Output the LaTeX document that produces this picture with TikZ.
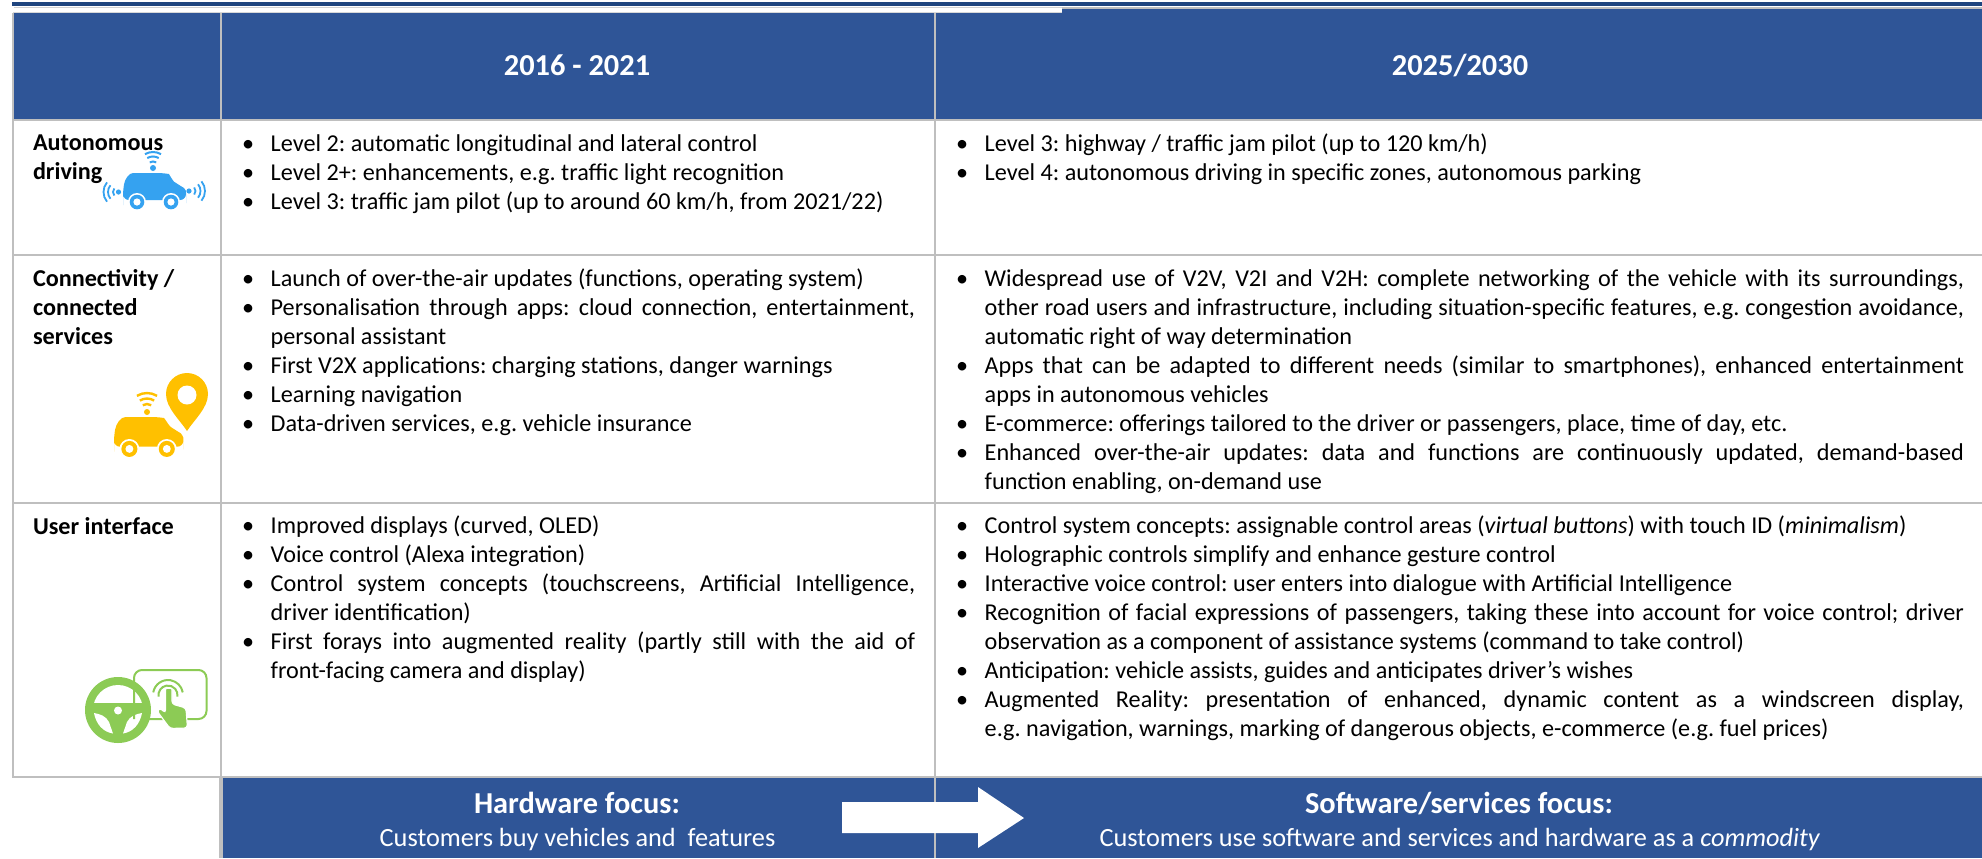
\documentclass[tikz,border=0pt]{standalone}
\usepackage{fontspec}
\setmainfont{Carlito}
\AtBeginDocument{\frenchspacing}
\definecolor{hdr}{HTML}{2F5597}
\definecolor{topbar}{HTML}{1F457F}
\definecolor{grid}{HTML}{BFBFBF}
\definecolor{cblue}{HTML}{35A2F0}
\definecolor{cyel}{HTML}{FFC000}
\definecolor{cgrn}{HTML}{8CCB55}
\newlength\tw
\newcommand\hangw{14.85pt}
\newcommand\bulletbox{\hbox to \hangw{\kern0.6pt\textbullet\hfil}}
\newcommand\bL[1]{\hbox{\bulletbox #1}}
\newcommand\bJ[1]{\hbox{\bulletbox\makebox[\tw][s]{#1}}}
\newcommand\cL[1]{\hbox{\hskip\hangw #1}}
\newcommand\cJ[1]{\hbox{\hskip\hangw\makebox[\tw][s]{#1}}}
\newcommand\cell[2]{\setlength\tw{#1}\vtop{\baselineskip=14.5pt\lineskiplimit=-100pt #2}}
\newcommand\rowlab[1]{\vtop{\baselineskip=14.5pt\lineskiplimit=-100pt\bfseries #1}}
\newcommand\carshape[3]{% scale, x, y  (blue car proportions)
  \begin{scope}[shift={(#2,#3)},scale=#1]
  \fill[carcol,rounded corners=3] (-30,26) -- (-30,17) .. controls (-28,6) and (-24,0) .. (-14,0) -- (10,0) .. controls (16,1) and (20,8) .. (26,12) .. controls (31,15) and (33,18) .. (33,24) -- (33,27) -- (-30,27) -- cycle;
  \foreach \wx in {-16,18}{
    \fill[white] (\wx,29) circle (9);
    \fill[carcol] (\wx,29) circle (7.3);
    \fill[white] (\wx,29) circle (3.6);}
  \end{scope}}
\tikzset{
  gridline/.style={draw=grid,line width=1pt},
  celltext/.style={inner sep=0pt,outer sep=0pt,anchor=base west,font=\fontsize{12.1}{14.5}\selectfont},
  headtext/.style={inner sep=0pt,anchor=base,text=white,font=\fontsize{15.2}{18}\selectfont\bfseries},
  bandhead/.style={inner sep=0pt,anchor=base,text=white,font=\fontsize{15.2}{18}\selectfont\bfseries},
  bandsub/.style={inner sep=0pt,anchor=base,text=white,font=\fontsize{13.15}{16}\selectfont},
}
\begin{document}
\begin{tikzpicture}[x=0.5pt,y=-0.5pt]
\useasboundingbox (0,0) rectangle (1982,858);
% top bars
\fill[topbar] (12,2) rectangle (1982,6.3);
\draw[grid!70,line width=0.4pt] (14,7.2) -- (1062,7.2);
\fill[grid] (1062,7) rectangle (1982,9);
% header and bottom band
\fill[hdr] (14,13) rectangle (1982,120);
\fill[hdr] (1062,9) rectangle (1982,13);
\fill[hdr] (222,777) rectangle (1982,858);
% grid
\draw[grid!60,line width=0.6pt] (13,12.6) -- (1062,12.6);
\draw[gridline] (13,13) -- (13,777);
\draw[gridline] (220.5,13) -- (220.5,777);
\draw[gridline,line width=2pt] (220.5,777) -- (220.5,858);
\draw[gridline] (935,13) -- (935,858);
\draw[gridline] (12,120) -- (1982,120);
\draw[gridline] (12,255) -- (1982,255);
\draw[gridline] (12,503) -- (1982,503);
\draw[gridline] (12,777) -- (1982,777);
% arrow
\fill[white] (842,802) -- (978,802) -- (978,787) -- (1024,818) -- (978,848) -- (978,833) -- (842,833) -- cycle;
% headers
\node[headtext] (h1) at (577,75) {2016 - 2021};
\node[headtext] (h2) at (1460,75) {2025/2030};
% row labels
\node[celltext] (l1) at (33,150) {\rowlab{\hbox{Autonomous}\hbox{driving}}};
\node[celltext] (l2) at (33,286) {\rowlab{\hbox{Connectivity /}\hbox{connected}\hbox{services}}};
\node[celltext] (l3) at (33,534) {\rowlab{\hbox{User interface}}};
% column 2
\node[celltext] (a1) at (241,151) {\cell{322.2pt}{
 \bL{Level 2: automatic longitudinal and lateral control}
 \bL{Level 2+: enhancements, e.g. traffic light recognition}
 \bL{Level 3: traffic jam pilot (up to around 60 km/h, from 2021/22)}}};
\node[celltext] (a2) at (241,286) {\cell{322.2pt}{
 \bL{Launch of over-the-air updates (functions, operating system)}
 \bJ{Personalisation through apps: cloud connection, entertainment,}
 \cL{personal assistant}
 \bL{First V2X applications: charging stations, danger warnings}
 \bL{Learning navigation}
 \bL{Data-driven services, e.g. vehicle insurance}}};
\node[celltext] (a3) at (241,533) {\cell{322.2pt}{
 \bL{Improved displays (curved, OLED)}
 \bL{Voice control (Alexa integration)}
 \bJ{Control system concepts (touchscreens, Artificial Intelligence,}
 \cL{driver identification)}
 \bJ{First forays into augmented reality (partly still with the aid of}
 \cL{front-facing camera and display)}}};
% column 3
\node[celltext] (b1) at (955,151) {\cell{489.65pt}{
 \bL{Level 3: highway / traffic jam pilot (up to 120 km/h)}
 \bL{Level 4: autonomous driving in specific zones, autonomous parking}}};
\node[celltext] (b2) at (955,286) {\cell{489.65pt}{
 \bJ{Widespread use of V2V, V2I and V2H: complete networking of the vehicle with its surroundings,}
 \cJ{other road users and infrastructure, including situation-specific features, e.g. congestion avoidance,}
 \cL{automatic right of way determination}
 \bJ{Apps that can be adapted to different needs (similar to smartphones), enhanced entertainment}
 \cL{apps in autonomous vehicles}
 \bL{E-commerce: offerings tailored to the driver or passengers, place, time of day, etc.}
 \bJ{Enhanced over-the-air updates: data and functions are continuously updated, demand-based}
 \cL{function enabling, on-demand use}}};
\node[celltext] (b3) at (955,533) {\cell{489.65pt}{
 \bL{Control system concepts: assignable control areas (\textit{virtual buttons}) with touch ID (\textit{minimalism})}
 \bL{Holographic controls simplify and enhance gesture control}
 \bL{Interactive voice control: user enters into dialogue with Artificial Intelligence}
 \bJ{Recognition of facial expressions of passengers, taking these into account for voice control; driver}
 \cL{observation as a component of assistance systems (command to take control)}
 \bL{Anticipation: vehicle assists, guides and anticipates driver’s wishes}
 \bJ{Augmented Reality: presentation of enhanced, dynamic content as a windscreen display,}
 \cL{e.g. navigation, warnings, marking of dangerous objects, e-commerce (e.g. fuel prices)}}};
% bottom band text
\node[bandhead] (f1) at (577,813) {Hardware focus:};
\node[bandsub] (s1) at (577.5,846) {Customers buy vehicles and\ \ features};
\node[bandhead] (f2) at (1459,813) {Software/services focus:};
\node[bandsub] (s2) at (1460,846) {Customers use software and services and hardware as a \textit{commodity}};
% ---- icon 1: blue car
\fill[white] (103,150.5) rectangle (208,212);
\colorlet{carcol}{cblue}
\carshape{1}{153}{173}
\fill[cblue] (153,168) circle (3);
\foreach \r in {6.5,11.5,16}{
  \draw[cblue,line width=1pt] ([shift={(240:\r)}]153,168) arc (240:300:\r);}
\fill[cblue] (118.5,192) circle (2.6);
\fill[cblue] (189,191) circle (2.6);
\foreach \r in {5.5,10.5,15}{
  \draw[cblue,line width=0.9pt] ([shift={(140:\r)}]118.5,192) arc (140:220:\r);
  \draw[cblue,line width=0.9pt] ([shift={(-40:\r)}]190,191) arc (-40:40:\r);}
% ---- icon 2: yellow car and pin
\colorlet{carcol}{cyel}
\carshape{1.1}{147}{417}
\fill[cyel] (147,412) circle (3);
\foreach \r in {8,13.5,19}{
  \draw[cyel,line width=1.2pt] ([shift={(238:\r)}]147,412) arc (238:302:\r);}
\fill[cyel] (187,431) .. controls (180,420) and (166,408) .. (166,394) arc (180:360:21) .. controls (208,408) and (194,420) .. (187,431) -- cycle;
\fill[white] (187,395) circle (9.5);
% ---- icon 3: steering wheel, screen, hand
\fill[cgrn] (118,710) circle (33);
\begin{scope}
  \clip (60,660) rectangle (180,702);
  \fill[white] (118,710) circle (25);
\end{scope}
\fill[white] (94,713) .. controls (100,714) and (106,716) .. (109,722) -- (113,733.5) .. controls (103,732) and (96,724) .. (94,713) -- cycle;
\fill[white] (142,713) .. controls (136,714) and (130,716) .. (127,722) -- (123,733.5) .. controls (133,732) and (140,724) .. (142,713) -- cycle;
\fill[white] (118,710.5) circle (4);
\draw[cgrn,line width=1pt,rounded corners=4] (134,719) -- (134,670) -- (206.5,670) -- (206.5,719) -- (146,719);
\draw[cgrn,line width=1pt] ([shift={(190:15)}]168,695) arc (190:350:15);
\draw[cgrn,line width=1pt] ([shift={(170:9.5)}]168,695) arc (170:370:9.5);
\fill[cgrn,draw=white,line width=0.6pt,rounded corners=1.5] (165.5,713) -- (165.5,692) .. controls (165.5,688) and (172,688) .. (172,692) -- (172,704) -- (186,708) -- (187.5,728) -- (170,728.5) -- (157,711) -- (160,708) -- cycle;
\end{tikzpicture}
\end{document}
